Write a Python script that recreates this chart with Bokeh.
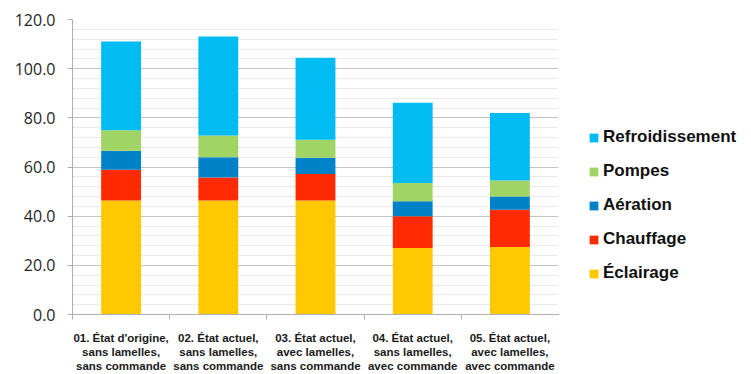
from bokeh.plotting import figure
from bokeh.layouts import row
from bokeh.models import (ColumnDataSource, Range1d, FixedTicker, SingleIntervalTicker,
                          NumeralTickFormatter, Legend, LegendItem)
from bokeh.embed import file_html
from bokeh.resources import INLINE

categories = [
    "01. État d'origine,\nsans lamelles,\nsans commande",
    "02. État actuel,\nsans lamelles,\nsans commande",
    "03. État actuel,\navec lamelles,\nsans commande",
    "04. État actuel,\nsans lamelles,\navec commande",
    "05. État actuel,\navec lamelles,\navec commande",
]
series = ["Éclairage", "Chauffage", "Aération", "Pompes", "Refroidissement"]
eclairage = [46.4, 46.4, 46.4, 27.1, 27.5]
chauffage = [12.5, 9.3, 10.8, 12.9, 15.1]
aeration = [7.7, 8.3, 6.6, 6.1, 5.4]
pompes = [8.3, 8.8, 7.3, 7.4, 6.5]
refroidissement = [36.2, 40.3, 33.3, 32.6, 27.5]
colors = ["#FFC800", "#FF2A00", "#0082C8", "#A0D464", "#00BCF2"]

xpos = [i + 0.5 for i in range(len(categories))]
src = ColumnDataSource(dict(x=xpos, **{
    "Éclairage": eclairage, "Chauffage": chauffage, "Aération": aeration,
    "Pompes": pompes, "Refroidissement": refroidissement}))

p = figure(width=558, height=374, output_backend="svg", toolbar_location=None,
           x_range=Range1d(0, len(categories)), y_range=Range1d(0, 120),
           min_border_left=72, min_border_right=0, min_border_top=19,
           min_border_bottom=60)
p.outline_line_color = None
p.background_fill_color = "white"

renderers = p.vbar_stack(series, x="x", width=0.41, source=src, color=colors,
                         line_color=None)

# y axis
p.yaxis.ticker = SingleIntervalTicker(interval=20, num_minor_ticks=5)
p.yaxis.formatter = NumeralTickFormatter(format="0.0")
p.yaxis.axis_line_color = "#b0b0b0"
p.yaxis.major_tick_line_color = "#b0b0b0"
p.yaxis.major_tick_out = 5
p.yaxis.major_tick_in = 0
p.yaxis.minor_tick_line_color = None
p.yaxis.major_label_text_font = "Open Sans"
p.yaxis.major_label_text_font_size = "16px"
p.yaxis.major_label_text_color = "#262626"
p.yaxis.major_label_standoff = 12

p.ygrid.grid_line_color = "#c4c4c4"
p.ygrid.minor_grid_line_color = "#e2e2e2"
p.ygrid.minor_grid_line_dash = "3 1"
p.xgrid.grid_line_color = None

# x axis
p.xaxis.ticker = FixedTicker(ticks=xpos, minor_ticks=list(range(len(categories) + 1)))
p.xaxis.major_label_overrides = {x: c for x, c in zip(xpos, categories)}
p.xaxis.axis_line_color = "#b0b0b0"
p.xaxis.major_tick_line_color = None
p.xaxis.minor_tick_line_color = "#b0b0b0"
p.xaxis.minor_tick_out = 5
p.xaxis.minor_tick_in = 0
p.xaxis.major_label_text_font = "Liberation Sans"
p.xaxis.major_label_text_font_style = "bold"
p.xaxis.major_label_text_font_size = "11.5px"
p.xaxis.major_label_text_color = "#1a1a1a"
p.xaxis.major_label_text_line_height = 1.18
p.xaxis.major_label_standoff = 11

# legend panel (separate figure to the right of the chart); its renderers
# exist only to supply legend swatches and lie outside its visible ranges
lg = figure(width=193, height=374, output_backend="svg", toolbar_location=None,
            x_range=Range1d(1000, 1001), y_range=Range1d(1000, 1001),
            x_axis_type=None, y_axis_type=None,
            min_border_left=0, min_border_right=0, min_border_top=0,
            min_border_bottom=0)
lg.grid.visible = False
lg.outline_line_color = None
legend_renderers = lg.vbar_stack(series, x="x", width=0.41, source=src,
                                 color=colors, line_color=None)
items = [LegendItem(label=s, renderers=[r])
         for s, r in zip(series, legend_renderers)][::-1]
legend = Legend(items=items, location=(30, 31), orientation="vertical",
                border_line_color=None, background_fill_alpha=0,
                label_text_font="Liberation Sans", label_text_font_style="bold",
                label_text_font_size="17px", label_text_color="#111111",
                glyph_width=11, glyph_height=11, label_height=20, spacing=14,
                label_standoff=4, padding=0, margin=0)
lg.add_layout(legend, "center")

open("out.html", "w").write(file_html(row(p, lg), INLINE))
